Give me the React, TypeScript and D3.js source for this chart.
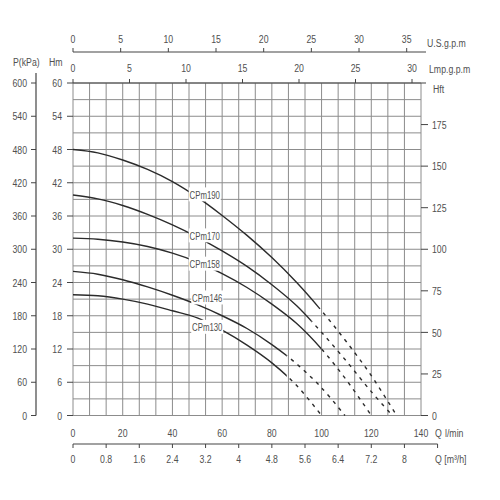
import React from 'react';
import * as d3 from 'd3';

// pump models and their H-Q curves (Q in l/min, H in m)
const models = ['CPm190', 'CPm170', 'CPm158', 'CPm146', 'CPm130'];
const q190 = [0, 10, 20, 30, 40, 50, 60, 70, 80, 90, 100, 110, 120, 130.2];
const h190 = [48, 47.4, 46.1, 44.4, 42.2, 39.4, 36.1, 32.5, 28.5, 24.0, 18.9, 13.3, 7.2, 0];
const q170 = [0, 10, 20, 30, 40, 50, 60, 70, 80, 90, 100, 110, 120, 128.5];
const h170 = [39.8, 39.1, 37.9, 36.3, 34.4, 32.2, 29.7, 26.9, 23.6, 19.8, 15.0, 9.8, 4.3, 0];
const q158 = [0, 10, 20, 30, 40, 50, 60, 70, 80, 90, 100, 110, 120];
const h158 = [32, 31.8, 31.3, 30.5, 29.3, 27.7, 25.6, 23.1, 20.1, 16.6, 12.0, 6.4, 0];
const q146 = [0, 10, 20, 30, 40, 50, 60, 70, 80, 90, 100, 109.4];
const h146 = [26, 25.5, 24.5, 23.2, 21.7, 20.0, 18.0, 15.7, 12.8, 9.3, 5.0, 0];
const q130 = [0, 10, 20, 30, 40, 50, 60, 70, 80, 90, 100];
const h130 = [21.8, 21.6, 21.0, 20.1, 18.9, 17.6, 15.4, 12.7, 9.5, 5.4, 0];
const solidEnd = [99, 96, 100, 86, 86];
const labelQ = [53, 53, 53, 54, 54];
const labelH = [39.9, 32.5, 27.4, 21.3, 16.0];

// tick labels
const lpmTicks = [0, 20, 40, 60, 80, 100, 120, 140];
const m3hTicks = [0, 0.8, 1.6, 2.4, 3.2, 4, 4.8, 5.6, 6.4, 7.2, 8];
const impTicks = [0, 5, 10, 15, 20, 25, 30];
const usTicks = [0, 5, 10, 15, 20, 25, 30, 35];
const hmTicks = [0, 6, 12, 18, 24, 30, 36, 42, 48, 54, 60];
const kpaTicks = [0, 60, 120, 180, 240, 300, 360, 420, 480, 540, 600];
const hftTicks = [0, 25, 50, 75, 100, 125, 150, 175];

const FONT = '"Liberation Sans", Arial, sans-serif';
const TXT = '#505050';

// condensed text: plain font squeezed horizontally
const T: React.FC<{ x: number; y: number; anchor?: string; dy?: string; sx?: number; children: React.ReactNode }> =
  ({ x, y, anchor = 'start', dy, sx = 0.76, children }) => (
    <text transform={`translate(${x},${y}) scale(${sx},1)`} textAnchor={anchor} dy={dy}>{children}</text>
  );

const App: React.FC = () => {
  const left = 73, right = 421, top = 83, bottom = 415.5;

  const x = d3.scaleLinear().domain([0, 140]).range([left, right]);
  const xM3h = d3.scaleLinear().domain([0, 8.4]).range([left, right]);
  const xImp = d3.scaleLinear().domain([0, 140 / 4.546]).range([left, right]);
  const xUs = d3.scaleLinear().domain([0, 36.5]).range([left, right]);
  const y = d3.scaleLinear().domain([0, 60]).range([bottom, top]);
  const yKpa = d3.scaleLinear().domain([0, 600]).range([bottom, top]);
  const yFt = d3.scaleLinear().domain([0, 200]).range([bottom, top]);

  const curves = [
    [q190, h190], [q170, h170], [q158, h158], [q146, h146], [q130, h130],
  ].map(([qs, hs]) => qs.map((q, i) => [q, hs[i]] as [number, number]));

  const line = d3.line<[number, number]>()
    .x(d => x(d[0]))
    .y(d => y(d[1]))
    .curve(d3.curveCatmullRom.alpha(0.5));

  const vGrid = d3.range(0, 8.41, 0.4);
  const hGrid = d3.range(0, 60.1, 3);

  const usAxisY = 52;
  const impAxisY = 83;
  const m3hAxisY = 444;
  const kpaAxisX = 36;

  return (
    <div style={{ position: 'absolute', left: 0, top: 0 }}>
      <svg width={500} height={500} style={{ fontFamily: FONT, display: 'block' }}>
        <rect width={500} height={500} fill="#fff" />
        <defs>
          {models.map((m, i) => (
            <g key={m}>
              <clipPath id={`solid-${i}`}>
                <rect x={0} y={0} width={x(solidEnd[i])} height={500} />
              </clipPath>
              <clipPath id={`dash-${i}`}>
                <rect x={x(solidEnd[i])} y={0} width={500} height={500} />
              </clipPath>
            </g>
          ))}
        </defs>

        {/* grid */}
        <g stroke="#8c8c8c" strokeWidth={1}>
          {vGrid.map(v => (
            <line key={`v${v}`} x1={xM3h(v)} x2={xM3h(v)} y1={top} y2={bottom} />
          ))}
          {hGrid.map(h => (
            <line key={`h${h}`} x1={left} x2={right} y1={y(h)} y2={y(h)} />
          ))}
        </g>

        {/* curves */}
        {curves.map((pts, i) => (
          <g key={models[i]} fill="none" stroke="#2b2b2b">
            <path d={line(pts) || ''} strokeWidth={1.4} clipPath={`url(#solid-${i})`} />
            <path d={line(pts) || ''} strokeWidth={1.4} strokeDasharray="3.5,5" clipPath={`url(#dash-${i})`} />
          </g>
        ))}

        {/* curve labels */}
        {models.map((m, i) => (
          <g key={`lab${m}`} fontSize={11.5} fill={TXT}>
            <rect x={x(labelQ[i]) - 16} y={y(labelH[i]) - 7} width={32} height={14} fill="#fff" />
            <T x={x(labelQ[i])} y={y(labelH[i])} anchor="middle" dy="0.36em" sx={0.68}>{m}</T>
          </g>
        ))}

        <g stroke="#444" fill="none">
          {/* top axes */}
          <line x1={left} x2={426} y1={usAxisY} y2={usAxisY} strokeWidth={1.2} />
          {usTicks.map(t => (
            <line key={`us${t}`} x1={xUs(t)} x2={xUs(t)} y1={usAxisY} y2={usAxisY - 4} />
          ))}
          <line x1={left} x2={426} y1={impAxisY} y2={impAxisY} strokeWidth={1.2} />
          {impTicks.map(t => (
            <line key={`imp${t}`} x1={xImp(t)} x2={xImp(t)} y1={impAxisY} y2={impAxisY - 4} />
          ))}
          {/* bottom m3/h axis */}
          <line x1={left} x2={xM3h(8.8)} y1={m3hAxisY} y2={m3hAxisY} strokeWidth={1.2} />
          {[...m3hTicks, 8.8].map(t => (
            <line key={`m3${t}`} x1={xM3h(t)} x2={xM3h(t)} y1={m3hAxisY} y2={m3hAxisY + 4} />
          ))}
          {/* left kPa axis */}
          <line x1={kpaAxisX} x2={kpaAxisX} y1={73} y2={bottom} strokeWidth={1.2} />
          {kpaTicks.map(t => (
            <line key={`kpa${t}`} x1={kpaAxisX - 5} x2={kpaAxisX} y1={yKpa(t)} y2={yKpa(t)} />
          ))}
          {hmTicks.map(t => (
            <line key={`hm${t}`} x1={left - 6} x2={left} y1={y(t)} y2={y(t)} />
          ))}
          {hftTicks.map(t => (
            <line key={`ft${t}`} x1={right} x2={right + 7} y1={yFt(t)} y2={yFt(t)} />
          ))}
        </g>

        <g fontSize={11.5} fill={TXT}>
          {usTicks.map(t => (
            <T key={`usl${t}`} x={xUs(t)} y={43} anchor="middle">{t}</T>
          ))}
          <T x={427} y={47}>U.S.g.p.m</T>
          {impTicks.map(t => (
            <T key={`impl${t}`} x={xImp(t)} y={72} anchor="middle">{t}</T>
          ))}
          <T x={429} y={73}>Lmp.g.p.m</T>
          <T x={433} y={93}>Hft</T>
          {hftTicks.map(t => (
            <T key={`ftl${t}`} x={432} y={yFt(t)} dy="0.36em">{t}</T>
          ))}
          {hmTicks.map(t => (
            <T key={`hml${t}`} x={62} y={y(t)} dy="0.36em" anchor="end">{t}</T>
          ))}
          {kpaTicks.map(t => (
            <T key={`kpal${t}`} x={27} y={yKpa(t)} dy="0.36em" anchor="end">{t}</T>
          ))}
          <T x={13} y={66}>P(kPa)</T>
          <T x={49} y={66}>Hm</T>
          {lpmTicks.map(t => (
            <T key={`lpm${t}`} x={x(t)} y={437} anchor="middle">{t}</T>
          ))}
          <T x={435} y={437}>Q</T>
          <T x={445} y={437}>l/min</T>
          {m3hTicks.map(t => (
            <T key={`m3l${t}`} x={xM3h(t)} y={463} anchor="middle">{t}</T>
          ))}
          <T x={435} y={463}>Q [m³/h]</T>
        </g>
      </svg>
    </div>
  );
};

export default App;
